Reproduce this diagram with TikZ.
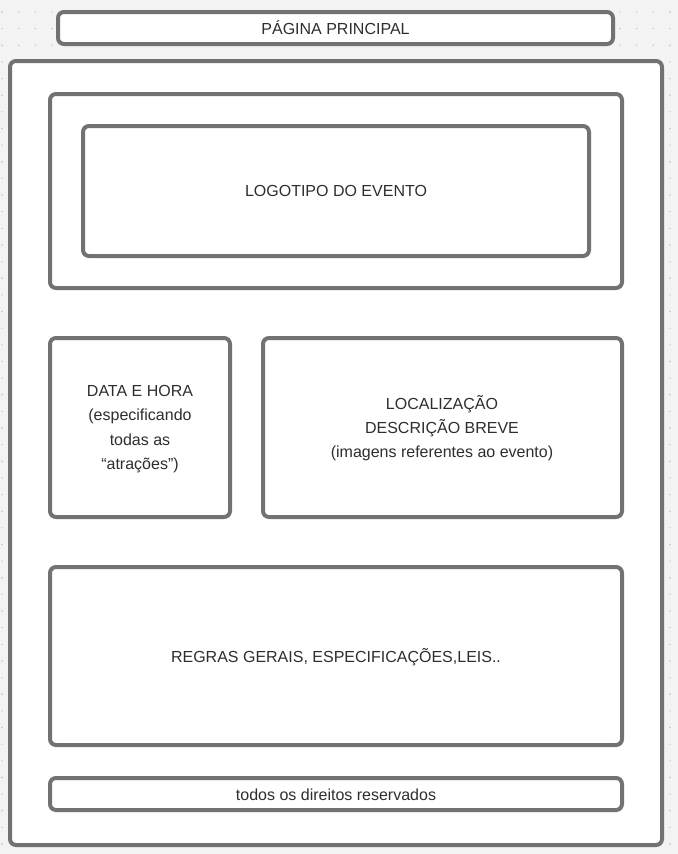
\documentclass[tikz,border=0pt]{standalone}
\usepackage{fontspec}
\setmainfont{Liberation Sans}
\definecolor{bgc}{HTML}{F3F3F3}
\definecolor{dotc}{HTML}{C4C4C4}
\definecolor{linec}{HTML}{727272}
\definecolor{txtc}{HTML}{2E2E2E}
\tikzset{
  frame/.style={draw=linec, line width=3pt, fill=white, rounded corners=4.5pt},
  lbl/.style={text=txtc, font=\fontsize{12pt}{18.2pt}\selectfont, align=center, inner sep=0pt},
}
\begin{document}
\begin{tikzpicture}[x=0.75pt,y=-0.75pt]
\fill[bgc] (0,0) rectangle (678,854);
\useasboundingbox (0,0) rectangle (678,854);
% dot grid
\foreach \i in {0,...,40}{
  \foreach \j in {0,...,50}{
    \fill[dotc] ({2+16.7*\i},{12+16.64*\j}) circle (0.6pt);
  }
}
% title
\draw[frame] (58,12) rectangle (613,44);
\node[lbl] (title) at (335.5,28) {PÁGINA PRINCIPAL};
% main page
\draw[frame] (10,61) rectangle (662,845);
% logo
\draw[frame] (50,94) rectangle (622,288);
\draw[frame] (83,126) rectangle (589,256);
\node[lbl] (logo) at (336,191) {LOGOTIPO DO EVENTO};
% data
\draw[frame] (50,338) rectangle (230,517);
\node[lbl] (data) at (140,429) {DATA E HORA\\(especificando\\todas as\\“atrações”)};
% localizacao
\draw[frame] (263,338) rectangle (622,517);
\node[lbl] (loc) at (442,428) {LOCALIZAÇÃO\\DESCRIÇÃO BREVE\\(imagens referentes ao evento)};
% regras
\draw[frame] (50,567) rectangle (622,745);
\node[lbl] (regras) at (336,657) {REGRAS GERAIS, ESPECIFICAÇÕES,LEIS..};
% footer
\draw[frame] (50,778) rectangle (622,810);
\node[lbl] (footer) at (336,795) {todos os direitos reservados};
\end{tikzpicture}
\end{document}
